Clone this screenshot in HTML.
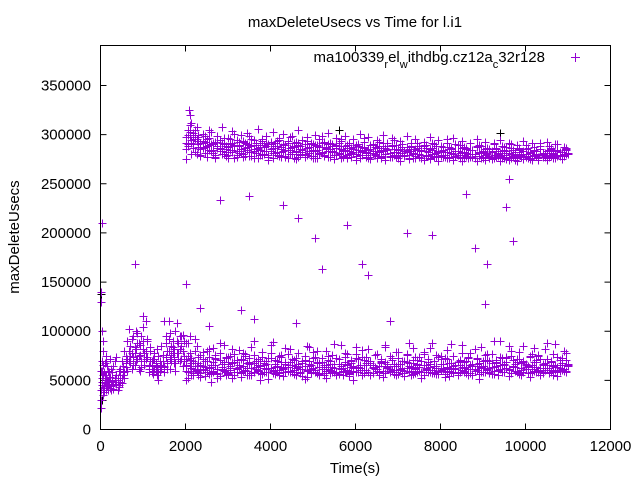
<!DOCTYPE html>
<html><head><meta charset="utf-8"><style>
html,body{margin:0;padding:0;background:#fff;}
svg{display:block;font-family:"Liberation Sans",sans-serif;}
</style></head><body>
<svg id="chart" width="640" height="480" viewBox="0 0 640 480" xmlns="http://www.w3.org/2000/svg">
<rect x="0" y="0" width="640" height="480" fill="#fff"/>
<text x="355" y="27" text-anchor="middle" font-size="15">maxDeleteUsecs vs Time for l.i1</text>
<text transform="translate(19,237) rotate(-90)" text-anchor="middle" font-size="15">maxDeleteUsecs</text>
<text x="355" y="473" text-anchor="middle" font-size="15">Time(s)</text>
<g id="axes"></g>
<g id="marks"></g>
<rect x="100.5" y="45.5" width="510" height="384" fill="none" stroke="#000"/>
<g>
<text x="545" y="62" text-anchor="end" font-size="15">ma100339<tspan baseline-shift="sub" font-size="11">r</tspan>el<tspan baseline-shift="sub" font-size="11">w</tspan>ithdbg.cz12a<tspan baseline-shift="sub" font-size="11">c</tspan>32r128</text>
<path d="M571 57.5h9M575.5 53v9" stroke="#9400d3" stroke-width="1"/>
</g>
</svg>
<script>
const xTicks=[0,2000,4000,6000,8000,10000,12000];
const yTicks=[0,50000,100000,150000,200000,250000,300000,350000];
const upperTimes=[2020,2060,2100,2140,2180,2220,2260,2300,2350,2400,2450,2500,2550,2600,2650,2700,2750,2800,2850,2900,2950,3000,3050,3100,3150,3200,3250,3300,3350,3400,3450,3500,3550,3600,3650,3700,3750,3800,3850,3900,3950,4000,4050,4100,4150,4200,4250,4300,4350,4400,4450,4500,4550,4600,4650,4700,4750,4800,4850,4900,4950,5000,5050,5100,5150,5200,5250,5300,5350,5400,5450,5500,5550,5600,5650,5700,5750,5800,5850,5900,5950,6000,6050,6100,6150,6200,6250,6300,6350,6400,6450,6500,6550,6600,6650,6700,6750,6800,6850,6900,6950,7000,7050,7100,7150,7200,7250,7300,7350,7400,7450,7500,7550,7600,7650,7700,7750,7800,7850,7900,7950,8000,8050,8100,8150,8200,8250,8300,8350,8400,8450,8500,8550,8600,8650,8700,8750,8800,8850,8900,8950,9000,9050,9100,9150,9200,9250,9300,9350,9400,9450,9500,9550,9600,9650,9700,9750,9800,9850,9900,9950,10000,10050,10100,10150,10200,10250,10300,10350,10400,10450,10500,10550,10600,10650,10700,10750,10800,10850,10900,10950,11000];
const upperA=[285,300,310,295,290,305,280,298,292,301,287,296,289,303,284,293,299,286,308,291,282,297,290,304,288,295,281,300,293,286,302,289,296,283,291,306,287,294,280,299,290,285,303,292,288,297,282,301,289,294,286,299,291,283,305,288,295,280,298,287,292,284,300,289,296,281,293,287,302,285,290,279,297,288,294,283,299,286,291,280,296,289,284,301,287,293,282,298,285,290,279,295,288,284,300,286,292,281,297,285,289,278,294,287,283,299,285,291,280,296,284,288,279,293,286,282,298,284,290,278,295,283,287,277,292,285,281,297,283,289,277,294,282,286,276,291,284,280,296,282,288,276,293,281,285,275,290,283,279,295,281,287,275,292,280,284,274,289,282,278,294,280,286,275,291,279,283,274,288,281,277,293,279,285,276,290,278,282,275,287,280];
const upperB=[275,290,320,280,300,282,296,287,278,291,299,281,305,283,290,277,293,285,280,297,288,276,292,284,301,279,289,283,294,278,287,299,282,276,291,285,279,296,283,288,274,293,281,286,279,295,277,289,284,276,298,282,287,275,292,280,285,277,294,283,278,290,276,288,281,299,279,286,277,291,282,275,289,280,296,278,284,276,292,281,287,274,290,279,283,297,277,285,275,289,280,276,293,278,283,274,288,281,277,295,279,284,273,290,278,282,275,287,280,276,292,277,283,274,289,279,275,291,278,281,273,288,277,282,296,276,286,274,290,279,281,273,287,278,276,292,277,280,273,289,276,282,274,286,278,275,291,277,281,273,288,276,283,274,290,278,280,273,286,277,275,289,276,282,274,287,278,276,292,277,281,274,288,279,283,276,290,278,282,279,286];
const upperC=[292,305,298,312,302,296,308,300,285,294,281,288,297,284,291,279,286,295,283,290,278,287,296,282,289,277,293,285,280,291,284,278,288,295,281,286,292,279,289,283,277,290,286,281,294,279,287,283,278,291,284,280,288,293,277,285,282,290,279,287,283,276,289,284,280,292,278,286,283,277,288,282,279,291,285,277,283,289,280,286,282,278,290,284,279,287,281,276,289,283,279,286,282,277,291,280,285,278,288,282,277,285,281,290,279,284,276,288,281,278,286,280,276,289,283,279,285,280,277,288,282,278,284,279,276,287,281,277,283,279,289,282,276,285,280,277,284,278,288,281,276,283,279,286,277,282,276,285,280,278,283,277,287,281,276,284,279,277,285,280,283,277,286,281,278,284,279,276,285,280,278,283,277,286,281,279,284,278,282,280,284,281];
const upperD=[298,288,303,292,286,300,294,290,279,286,293,277,284,290,281,276,288,283,292,280,285,279,284,291,276,283,288,281,277,286,290,282,278,285,289,276,284,280,287,291,279,283,276,288,282,278,285,290,277,284,280,287,276,282,289,279,284,277,286,281,290,278,283,276,287,282,279,285,290,277,283,279,286,281,276,284,288,279,283,277,285,280,288,276,282,286,279,284,277,281,287,278,283,276,286,280,284,277,289,279,282,276,285,281,278,287,279,283,276,285,280,277,284,288,278,282,276,286,280,277,283,279,287,277,282,276,285,280,278,283,276,286,279,281,277,284,280,276,287,278,282,277,285,280,276,283,279,286,278,281,276,284,279,277,286,280,282,276,284,279,277,285,278,282,276,283,280,277,285,279,281,276,284,278,280,277,283,279,282,278,285,280];
const lowerTimes=upperTimes;
const lowerA=[60,75,95,55,70,62,85,58,66,72,54,80,63,57,69,76,52,88,61,67,74,56,65,82,59,71,64,53,78,60,68,73,55,90,62,66,57,79,63,70,51,86,61,67,58,75,64,54,83,60,69,72,56,65,78,59,62,71,53,84,66,61,74,57,68,64,55,80,62,70,58,67,73,56,86,63,60,77,54,68,65,59,72,61,81,57,66,70,55,64,76,62,58,69,53,84,67,60,73,56,65,79,61,57,70,63,88,55,68,74,59,64,52,77,66,61,83,58,70,63,56,75,67,60,72,54,87,65,62,69,58,78,63,57,73,66,55,82,61,68,64,59,76,62,70,56,90,65,60,74,58,67,63,85,57,71,64,60,79,55,69,66,62,75,58,83,64,61,72,57,68,88,63,59,77,66,54,71,62,80,60,67];
const lowerB=[50,88,65,73,57,92,61,68,53,79,64,59,74,48,83,66,56,71,62,86,58,67,75,52,69,63,81,57,65,77,60,55,84,68,62,72,50,79,66,58,73,63,89,56,70,61,76,54,67,64,82,59,71,55,78,62,68,51,85,65,58,73,61,80,56,69,64,52,75,67,60,87,57,72,63,55,78,66,59,71,50,84,64,61,74,57,68,82,55,66,62,77,59,70,53,86,63,58,73,65,79,56,67,61,54,76,68,60,83,57,71,64,52,79,62,69,58,88,65,56,74,61,67,53,81,63,59,75,66,57,70,86,60,64,55,78,67,62,73,51,84,65,59,71,63,77,56,69,61,90,58,66,74,54,80,64,60,72,57,68,85,62,65,53,77,69,59,75,63,58,82,66,61,70,55,87,64,60,73,62,78];
const lowerC=[66,58,71,63,55,68,60,74,57,65,61,70,56,64,59,72,62,54,67,60,73,57,63,69,55,62,66,58,71,61,55,67,63,58,70,60,65,56,68,62,59,73,57,64,61,55,69,63,58,66,60,72,56,63,67,59,54,65,61,70,57,63,58,68,55,62,66,60,71,57,64,59,55,67,62,58,69,61,56,64,60,73,58,63,55,66,61,59,70,57,64,62,55,68,60,57,65,62,71,58,55,67,61,63,57,69,59,64,56,62,66,60,70,55,63,58,67,61,57,65,59,72,62,56,64,60,68,57,63,55,66,61,58,70,62,57,65,60,67,56,63,59,71,61,57,64,60,68,55,62,66,58,73,61,57,65,60,69,56,63,59,67,62,57,64,60,71,58,55,66,61,63,57,69,60,64,58,66,61,62,59,65];
const lowerD=[72,52,78,68,60,80,65,55,76,62,70,58,82,66,60,73,57,78,64,69,55,74,61,68,77,58,66,72,60,75,63,69,57,76,64,61,70,74,58,67,63,78,60,71,65,57,74,62,69,77,58,66,61,73,64,57,70,75,60,67,62,79,58,69,64,73,57,66,71,61,76,63,58,72,65,60,74,67,57,70,63,77,59,66,61,71,74,58,68,63,76,60,65,72,57,69,64,75,61,67,58,73,62,70,60,77,65,58,71,63,67,74,59,66,61,72,64,57,70,76,60,67,63,73,58,68,62,75,66,59,71,64,69,57,74,62,67,60,72,65,58,70,63,77,59,68,64,71,60,66,73,58,69,62,75,64,67,59,72,61,70,64,57,74,66,62,69,76,60,67,63,72,58,70,65,61,74,63,68,60,71,66];
const earlyTimes=[10,20,30,40,50,60,80,100,120,140,160,180,200,220,250,280,300,330,360,400,430,460,500,530,560,600,630,660,700,730,760,800,830,860,900,930,960,1000,1030,1060,1100,1130,1160,1200,1230,1260,1300,1330,1360,1400,1430,1460,1500,1530,1560,1600,1630,1660,1700,1730,1760,1800,1830,1860,1900,1930,1960,2000];
const earlyA=[22,140,100,60,35,80,45,55,70,40,65,48,58,42,62,50,45,70,55,40,60,48,52,65,58,75,90,70,85,62,95,78,100,72,88,60,95,82,70,110,90,65,80,58,72,62,68,55,75,60,85,70,65,95,80,110,72,85,90,68,100,78,88,70,95,80,75,65];
const earlyB=[30,130,45,70,90,55,38,68,52,75,44,60,50,72,40,58,65,48,74,52,45,62,70,55,80,68,60,102,75,92,66,84,70,98,75,86,64,104,78,72,92,58,84,70,60,78,65,82,50,70,66,76,58,88,62,92,98,70,78,82,60,108,72,95,85,65,90,72];
const earlyC=[40,60,52,48,66,42,58,47,44,55,50,40,46,53,44,49,41,52,46,50,43,55,47,60,52,64,72,80,68,78,74,66,82,88,62,76,70,90,66,80,74,62,70,66,56,72,60,64,58,66,62,70,64,74,68,80,62,76,84,74,68,90,78,82,72,96,70,88];
const outlierTimes=[30,800,1000,1500,2000,2080,2550,2800,3300,3500,4300,4650,5050,5200,5800,6150,6300,7200,7800,8600,8800,9050,9100,9550,9700,9600,2350,3600,4600,6800];
const outlierVals=[210,168,115,110,148,325,105,233,122,238,228,215,195,163,208,168,157,200,198,240,185,128,168,226,192,255,124,112,108,110];
const blackTimes=[15,40,2100,5600,9400];
const blackVals=[138,30,298,305,302];

const X0=100.5,X1=610.5,Y0=429.5,Y1=45.5,XMAX=12000,YMAX=390700;
function sx(v){return X0+(v/XMAX)*(X1-X0);}
function sy(v){return Y0-(v/YMAX)*(Y0-Y1);}
const NS="http://www.w3.org/2000/svg";
const axes=document.getElementById('axes');
xTicks.forEach(t=>{
  const x=sx(t);
  const p=document.createElementNS(NS,'path');
  p.setAttribute('d',`M${x} ${Y0}v-6M${x} ${Y1}v6`);
  p.setAttribute('stroke','#000');
  
  
  axes.appendChild(p);
  const tx=document.createElementNS(NS,'text');
  tx.setAttribute('x',x);tx.setAttribute('y',451);
  tx.setAttribute('text-anchor','middle');tx.setAttribute('font-size','15');
  tx.textContent=t;
  
  
  axes.appendChild(tx);
});
yTicks.forEach(t=>{
  const y=sy(t);
  const p=document.createElementNS(NS,'path');
  p.setAttribute('d',`M${X0} ${y}h6M${X1} ${y}h-6`);
  p.setAttribute('stroke','#000');
  
  
  axes.appendChild(p);
  const tx=document.createElementNS(NS,'text');
  tx.setAttribute('x',91);tx.setAttribute('y',y+5);
  tx.setAttribute('text-anchor','end');tx.setAttribute('font-size','15');
  tx.textContent=t;
  
  
  axes.appendChild(tx);
});
const marks=document.getElementById('marks');
function plot(times,vals,color,name){
  let d='';
  for(let i=0;i<times.length&&i<vals.length;i++){
    const x=Math.round(sx(times[i]))+0.5,y=Math.round(sy(vals[i]*1000))+0.5;
    d+=`M${x-4} ${y}h8M${x} ${y-4}v8`;
  }
  const p=document.createElementNS(NS,'path');
  p.setAttribute('d',d);p.setAttribute('stroke',color);p.setAttribute('fill','none');
  
  
  marks.appendChild(p);
}
plot(blackTimes,blackVals,'#000','black-series-points');
plot(upperTimes,upperA,'#9400d3','upper-band-points-a');
plot(upperTimes,upperB,'#9400d3','upper-band-points-b');
plot(upperTimes,upperC,'#9400d3','upper-band-points-c');
plot(upperTimes,upperD,'#9400d3','upper-band-points-d');
plot(lowerTimes,lowerA,'#9400d3','lower-band-points-a');
plot(lowerTimes,lowerB,'#9400d3','lower-band-points-b');
plot(lowerTimes,lowerC,'#9400d3','lower-band-points-c');
plot(lowerTimes,lowerD,'#9400d3','lower-band-points-d');
plot(earlyTimes,earlyA,'#9400d3','early-points-a');
plot(earlyTimes,earlyB,'#9400d3','early-points-b');
plot(earlyTimes,earlyC,'#9400d3','early-points-c');
plot(outlierTimes,outlierVals,'#9400d3','outlier-points');
</script>
</body></html>
